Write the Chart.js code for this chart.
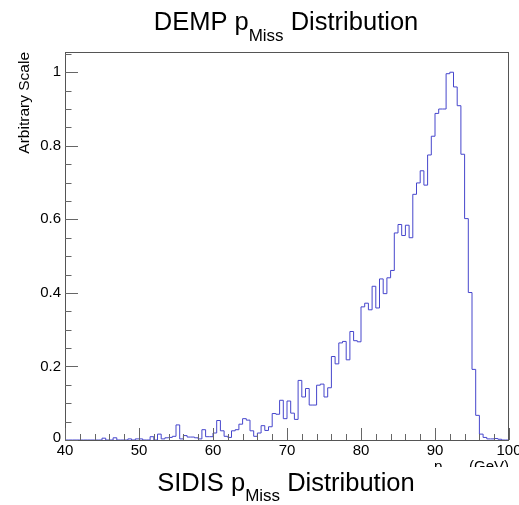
<!DOCTYPE html>
<html>
<head>
  <meta charset="UTF-8">
  <title>DEMP pMiss Distribution</title>
  <script src="https://cdn.jsdelivr.net/npm/chart.js"></script>
  <style>
    body { margin: 0; background: #fff; }
    canvas { display: block; }
  </style>
</head>
<body>
  <canvas id="pMissChart" width="519" height="505"></canvas>

  <script>
    // histogram binning (GeV)
    const binLow = 40;
    const binWidth = 0.5;

    // normalised bin contents, 40 -> 100 GeV, 120 bins
    const pMissCounts = [
      0, 0, 0, 0, 0, 0, 0, 0, 0, 0,
      0, 0.005, 0, 0, 0.006, 0, 0, 0, 0.003, 0,
      0.003, 0.003, 0, 0, 0.009, 0, 0.016, 0.003, 0.006, 0.007,
      0.010, 0.041, 0.003, 0.012, 0.008, 0.008, 0.006, 0.003, 0.028, 0.009,
      0.009, 0.019, 0.053, 0.025, 0.010, 0.007, 0.025, 0.028, 0.043, 0.058,
      0.054, 0.025, 0.010, 0.019, 0.039, 0.026, 0.036, 0.072, 0.070, 0.108,
      0.058, 0.106, 0.073, 0.056, 0.162, 0.117, 0.140, 0.095, 0.095, 0.149,
      0.152, 0.117, 0.142, 0.227, 0.207, 0.264, 0.268, 0.218, 0.295, 0.270,
      0.267, 0.362, 0.372, 0.354, 0.418, 0.359, 0.438, 0.398, 0.441, 0.461,
      0.563, 0.586, 0.556, 0.584, 0.550, 0.668, 0.699, 0.732, 0.693, 0.775,
      0.826, 0.888, 0.900, 0.900, 0.996, 1.000, 0.960, 0.909, 0.777, 0.602,
      0.401, 0.192, 0.067, 0.016, 0.007, 0.003, 0.003, 0.004, 0.002, 0
    ];

    const xTickLabels = [40, 50, 60, 70, 80, 90, 100];
    const yTickLabels = [0, 0.2, 0.4, 0.6, 0.8, 1];

    const histPoints = pMissCounts.map((v, i) => ({ x: binLow + i * binWidth, y: v }));
    histPoints.push({ x: binLow + pMissCounts.length * binWidth, y: pMissCounts[pMissCounts.length - 1] });

    const FONT = '"Liberation Sans", Arial, Helvetica, sans-serif';

    // text with a subscript part: [before, sub, after]
    function subText(ctx, parts, x, base, size, subSize, drop, align) {
      ctx.font = size + 'px ' + FONT;
      const w0 = ctx.measureText(parts[0]).width;
      const w2 = ctx.measureText(parts[2]).width;
      ctx.font = subSize + 'px ' + FONT;
      const w1 = ctx.measureText(parts[1]).width;
      const total = w0 + w1 + w2;
      let left = align === 'right' ? x - total : x - total / 2;
      ctx.textAlign = 'left';
      ctx.textBaseline = 'alphabetic';
      ctx.fillStyle = '#000';
      ctx.font = size + 'px ' + FONT;
      ctx.fillText(parts[0], left, base);
      ctx.font = subSize + 'px ' + FONT;
      ctx.fillText(parts[1], left + w0, base + drop);
      ctx.font = size + 'px ' + FONT;
      ctx.fillText(parts[2], left + w0 + w1, base);
    }

    const rootFrame = {
      id: 'rootFrame',
      afterDraw(chart) {
        const { ctx, chartArea: a, scales } = chart;
        const xs = scales.x, ys = scales.y;
        ctx.save();

        // frame
        ctx.strokeStyle = '#555';
        ctx.lineWidth = 1;
        ctx.strokeRect(Math.round(a.left) + 0.5, Math.round(a.top) + 0.5,
          Math.round(a.right - a.left) - 1, Math.round(a.bottom - a.top));

        // ticks
        ctx.strokeStyle = '#666';
        ctx.beginPath();
        for (let v = 40; v <= 100.001; v += 2) {
          const px = Math.round(xs.getPixelForValue(v)) + 0.5;
          const len = (Math.round(v) % 10 === 0) ? 12 : 6;
          ctx.moveTo(px, a.bottom);
          ctx.lineTo(px, a.bottom - len);
        }
        for (let k = 0; k <= 21; k++) {
          const v = k * 0.05;
          const py = Math.round(ys.getPixelForValue(v)) + 0.5;
          const len = (k % 4 === 0) ? 13 : 6.5;
          ctx.moveTo(a.left, py);
          ctx.lineTo(a.left + len, py);
        }
        ctx.stroke();

        // tick labels
        ctx.fillStyle = '#000';
        ctx.font = '15px ' + FONT;
        ctx.textAlign = 'center';
        ctx.textBaseline = 'top';
        xTickLabels.forEach(v => {
          ctx.fillText(String(v), xs.getPixelForValue(v), a.bottom + 3);
        });
        ctx.textAlign = 'right';
        ctx.textBaseline = 'middle';
        yTickLabels.forEach(v => {
          const py = ys.getPixelForValue(v) - (v === 0 ? 2 : 0);
          ctx.fillText(String(v), a.left - 4, py);
        });

        // y axis title
        ctx.save();
        ctx.translate(29, a.top);
        ctx.rotate(-Math.PI / 2);
        ctx.font = '15.5px ' + FONT;
        ctx.textAlign = 'right';
        ctx.textBaseline = 'alphabetic';
        ctx.fillText('Arbitrary Scale', 0, 0);
        ctx.restore();

        // x axis title, partly hidden by the next pad
        subText(ctx, ['p', 'Miss', ' (GeV)'], a.right, 471, 15, 11, 4, 'right');

        // title
        subText(ctx, ['DEMP p', 'Miss', ' Distribution'], 286, 30, 25.5, 17, 11, 'center');

        // lower pad with its own title
        ctx.fillStyle = '#fff';
        ctx.fillRect(0, 467, chart.width, chart.height - 467);
        subText(ctx, ['SIDIS p', 'Miss', ' Distribution'], 286, 491, 25.5, 17, 10, 'center');

        ctx.restore();
      }
    };

    new Chart(document.getElementById('pMissChart'), {
      type: 'line',
      data: {
        datasets: [{
          label: 'p_Miss',
          data: histPoints,
          stepped: 'after',
          borderColor: '#4646cc',
          borderWidth: 1,
          pointRadius: 0,
          fill: false,
          clip: false
        }]
      },
      options: {
        responsive: false,
        animation: false,
        layout: { padding: { left: 65, right: 10, top: 52, bottom: 65 } },
        plugins: { legend: { display: false }, tooltip: { enabled: false } },
        scales: {
          x: { type: 'linear', min: 40, max: 100, display: false },
          y: { type: 'linear', min: 0, max: 1.055, display: false }
        }
      },
      plugins: [rootFrame]
    });
  </script>
</body>
</html>
